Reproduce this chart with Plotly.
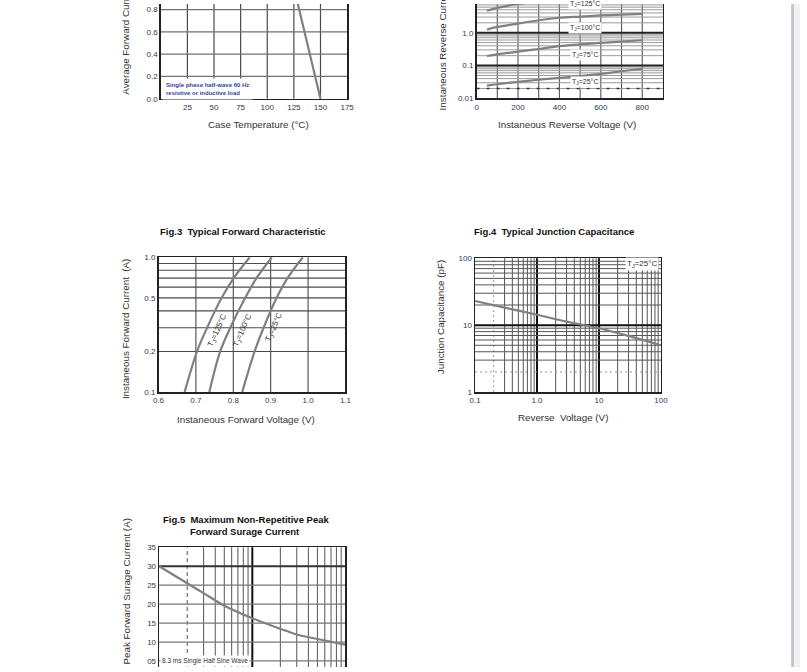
import plotly.graph_objects as go

# ---------------- data ----------------
# Fig.1 derating curve
fig1_temp = [25, 125, 150]
fig1_current = [1.0, 1.0, 0.0]
fig1_xticks = [25, 50, 75, 100, 125, 150, 175]
fig1_yticks = [0.0, 0.2, 0.4, 0.6, 0.8]

# Fig.2 reverse characteristic
fig2_voltage = [50, 100, 200, 300, 400, 500, 600, 700, 800]
ir_25 = [0.0245, 0.027, 0.032, 0.037, 0.042, 0.048, 0.056, 0.067, 0.080]
ir_75 = [0.195, 0.22, 0.265, 0.32, 0.39, 0.44, 0.49, 0.54, 0.59]
ir_100 = [1.24, 1.5, 1.9, 2.4, 2.85, 3.1, 3.35, 3.55, 3.75]
ir_125 = [4.7, 5.7, 7.5, 8.8, 10.0, 11.0, 12.0, 13.0, 14.0]
fig2_xticks = [0, 200, 400, 600, 800]
fig2_yticks = [0.01, 0.1, 1.0]
fig2_yticktext = ["0.01", "0.1", "1.0"]

# Fig.3 forward characteristic (voltage at given currents)
fig3_current = [0.1, 0.2, 0.3, 0.5, 0.7, 1.0]
vf_125 = [0.670, 0.703, 0.730, 0.769, 0.801, 0.844]
vf_100 = [0.736, 0.765, 0.792, 0.832, 0.862, 0.903]
vf_25 = [0.824, 0.857, 0.881, 0.916, 0.945, 0.986]
fig3_xticks = [0.6, 0.7, 0.8, 0.9, 1.0, 1.1]
fig3_yticks = [0.1, 0.2, 0.5, 1.0]

# Fig.4 junction capacitance
fig4_voltage = [0.1, 0.3, 1, 3, 10, 30, 100]
fig4_cap = [23, 18.3, 14.3, 11.3, 9.0, 6.9, 5.0]
fig4_xticks = [0.1, 1, 10, 100]
fig4_xticktext = ["0.1", "1.0", "10", "100"]
fig4_yticks = [1, 10, 100]

# Fig.5 surge current
fig5_cycles = [1, 2, 3, 5, 10, 20, 30, 50, 100]
fig5_surge = [30, 25.5, 22.9, 19.6, 16.3, 13.5, 12.0, 10.8, 9.3]
fig5_yticks = [5, 10, 15, 20, 25, 30, 35]
fig5_yticktext = ["05", "10", "15", "20", "25", "30", "35"]

# ---------------- layout helpers ----------------
W, H = 807, 672


def fx(p):
    return p / W


def fy(p):
    return 1 - p / H


CURVE = dict(color="#808080", width=2.2)
TICKFONT = dict(family="Liberation Sans, Arial, sans-serif", size=8, color="#2e3a55")
TITLEFONT = dict(family="Liberation Sans, Arial, sans-serif", size=9.8, color="#333333")
BOLDFONT = dict(family="Liberation Sans, Arial, sans-serif", size=9.5, color="#111111")
AXLINE = dict(showline=True, linecolor="#222222", linewidth=1.5, zeroline=False,
              ticks="", tickfont=TICKFONT, fixedrange=True)

fig = go.Figure()

# traces
fig.add_trace(go.Scatter(x=fig1_temp, y=fig1_current, mode="lines", line=CURVE,
                         xaxis="x", yaxis="y", showlegend=False))
for ser in (ir_25, ir_75, ir_100, ir_125):
    fig.add_trace(go.Scatter(x=fig2_voltage, y=ser, mode="lines", line=dict(CURVE, shape="spline"),
                             xaxis="x2", yaxis="y2", showlegend=False))
for ser in (vf_125, vf_100, vf_25):
    fig.add_trace(go.Scatter(x=ser, y=fig3_current, mode="lines", line=dict(CURVE, shape="spline"),
                             xaxis="x3", yaxis="y3", showlegend=False))
fig.add_trace(go.Scatter(x=fig4_voltage, y=fig4_cap, mode="lines", line=dict(CURVE, shape="spline"),
                         xaxis="x4", yaxis="y4", showlegend=False))
fig.add_trace(go.Scatter(x=fig5_cycles, y=fig5_surge, mode="lines", line=dict(CURVE, shape="spline"),
                         xaxis="x5", yaxis="y5", showlegend=False))

shapes = []


def vline(xa, ya, vals, color, width, dash="solid"):
    for v in vals:
        shapes.append(dict(type="line", xref=xa, yref=ya + " domain", x0=v, x1=v, y0=0, y1=1,
                           line=dict(color=color, width=width, dash=dash), layer="below"))


def hline(xa, ya, vals, color, width, dash="solid"):
    for v in vals:
        shapes.append(dict(type="line", xref=xa + " domain", yref=ya, x0=0, x1=1, y0=v, y1=v,
                           line=dict(color=color, width=width, dash=dash), layer="below"))


minor = [3, 4, 5, 6, 7, 8, 9]

# Fig.1 grid
vline("x", "y", [25, 50, 75, 100, 125, 150], "#4a4a4a", 1.2)
hline("x", "y", [0.2, 0.4, 0.6, 0.8], "#707070", 1.2)

# Fig.2 grid
vline("x2", "y2", [100, 200, 300, 400, 500, 600, 700, 800], "#555555", 1.1)
hline("x2", "y2", [m * d for d in (0.01, 0.1, 1) for m in minor] + [0.02, 0.2, 2], "#9a9a9a", 1)
hline("x2", "y2", [0.02], "#333333", 1.5, "3px,7px")
hline("x2", "y2", [0.1, 1, 10], "#222222", 2)

# Fig.3 grid
vline("x3", "y3", [0.7, 0.8, 0.9, 1.0], "#4a4a4a", 1.1)
hline("x3", "y3", [0.2, 0.3, 0.4, 0.5, 0.6, 0.7, 0.8, 0.9], "#4a4a4a", 1.1)

# Fig.4 grid
vline("x4", "y4", [m * d for d in (0.1, 1, 10) for m in minor] + [2, 20], "#555555", 1)
vline("x4", "y4", [0.2], "#999999", 1, "2px,3px")
vline("x4", "y4", [1, 10], "#111111", 2)
hline("x4", "y4", [m * d for d in (1, 10) for m in minor] + [20], "#555555", 1)
hline("x4", "y4", [2], "#999999", 1, "2px,3px")
hline("x4", "y4", [10], "#111111", 2)

# Fig.5 grid
vline("x5", "y5", [m * d for d in (1, 10) for m in minor] + [20], "#555555", 1)
vline("x5", "y5", [2], "#555555", 1, "4px,3px")
vline("x5", "y5", [10], "#111111", 2)
hline("x5", "y5", [5, 10, 15, 20, 25], "#777777", 1.2)
hline("x5", "y5", [30], "#333333", 2)

# scrollbar strip on the right
shapes.append(dict(type="rect", xref="paper", yref="paper", x0=fx(798), x1=fx(801), y0=0, y1=1,
                   fillcolor="#c6c6c6", line=dict(width=0)))
shapes.append(dict(type="rect", xref="paper", yref="paper", x0=fx(801), x1=1, y0=0, y1=1,
                   fillcolor="#f0f1f6", line=dict(width=0)))

# ---------------- axes ----------------
fig.update_layout(
    width=W, height=H, margin=dict(l=0, r=0, t=0, b=0),
    paper_bgcolor="white", plot_bgcolor="white", showlegend=False,
    dragmode=False, hovermode=False,
    xaxis=dict(AXLINE, domain=[fx(157.3), fx(346.7)], range=[0, 175], tickvals=fig1_xticks,
               anchor="y", mirror=False, showgrid=False),
    yaxis=dict(AXLINE, domain=[fy(96), fy(0)], range=[0, 0.8503], tickvals=fig1_yticks,
               tickformat=".1f", anchor="x", mirror=True, showgrid=False),
    xaxis2=dict(AXLINE, domain=[fx(478.3), fx(667.7)], range=[0, 900], tickvals=fig2_xticks,
                anchor="y2", mirror=False, showgrid=False),
    yaxis2=dict(AXLINE, type="log", domain=[fy(95.7), fy(0)], range=[-2, 0.874],
                tickvals=fig2_yticks, ticktext=fig2_yticktext, anchor="x2", mirror=True, showgrid=False),
    xaxis3=dict(AXLINE, domain=[fx(155), fx(345)], range=[0.6, 1.1], tickvals=fig3_xticks,
                tickformat=".1f", anchor="y3", mirror=True, showgrid=False),
    yaxis3=dict(AXLINE, type="log", domain=[fy(393.3), fy(256.7)], range=[-1, 0],
                tickvals=fig3_yticks, ticktext=["0.1", "0.2", "0.5", "1.0"], anchor="x3",
                mirror=True, showgrid=False),
    xaxis4=dict(AXLINE, type="log", domain=[fx(476.7), fx(665.7)], range=[-1, 2],
                tickvals=fig4_xticks, ticktext=fig4_xticktext, anchor="y4", mirror=True, showgrid=False),
    yaxis4=dict(AXLINE, type="log", domain=[fy(393.3), fy(257.7)], range=[0, 2],
                tickvals=fig4_yticks, ticktext=["1", "10", "100"], anchor="x4", mirror=True, showgrid=False),
    xaxis5=dict(AXLINE, type="log", domain=[fx(155.7), fx(345)], range=[0, 2], side="top",
                showticklabels=False, anchor="y5", mirror=False, showgrid=False),
    yaxis5=dict(AXLINE, domain=[fy(672), fy(550.7)], range=[3.41, 35], tickvals=fig5_yticks,
                ticktext=fig5_yticktext, anchor="x5", mirror=True, showgrid=False),
    shapes=shapes,
)

ann = []


def text(x, y, t, font, angle=0, **kw):
    d = dict(xref="paper", yref="paper", x=fx(x), y=fy(y), text=t, showarrow=False,
             font=font, textangle=angle, xanchor="center", yanchor="middle")
    d.update(kw)
    ann.append(d)


# axis titles
text(257, 122, "Case Temperature (°C)", TITLEFONT)
text(122, 28, "Average Forward Current (A)", TITLEFONT, -90)
text(570, 122, "Instaneous Reverse Voltage (V)", TITLEFONT)
text(444, 35, "Instaneous Reverse Current (µA)", TITLEFONT, -90)
text(244, 421.5, "Instaneous Forward Voltage (V)", TITLEFONT)
text(121.5, 330, "Instaneous Forward Current  (A)", TITLEFONT, -90)
text(566, 419, "Reverse  Voltage (V)", TITLEFONT)
text(441.5, 317, "Junction Capacitance (pF)", TITLEFONT, -90)
# kept inside the canvas (bottom end at the lower edge)
ann.append(dict(xref="paper", yref="paper", x=fx(121.5), y=0, text="Peak Forward Surage Current (A)",
                showarrow=False, font=TITLEFONT, textangle=-90, xanchor="center", yanchor="bottom"))

# figure titles
text(240.5, 231, "<b>Fig.3  Typical Forward Characteristic</b>", BOLDFONT)
text(557, 231, "<b>Fig.4  Typical Junction Capacitance</b>", BOLDFONT)
text(244, 523, "<b>Fig.5  Maximum Non-Repetitive Peak</b>", BOLDFONT)
text(243, 535, "<b>Forward Surage Current</b>", BOLDFONT)

# Fig.1 note
ann.append(dict(xref="paper", yref="paper", x=fx(159), y=fy(75), xanchor="left", yanchor="top",
                text="<b>Single phase half-wave 60 Hz<br>resistive or inductive load</b>",
                showarrow=False, align="left", bgcolor="white", borderpad=3,
                font=dict(family="Liberation Sans, Arial, sans-serif", size=6, color="#34449a")))

# Fig.2 temperature labels
LBL = dict(family="Liberation Sans, Arial, sans-serif", size=7, color="#333333")
for (yy, t) in [(0, "125"), (24, "100"), (52, "75"), (79, "25")]:
    text(588, yy, "T<sub>J</sub>=" + t + "°C", LBL, bgcolor="white", borderpad=1)

# Fig.3 rotated labels
LBL3 = dict(family="Liberation Sans, Arial, sans-serif", size=8, color="#333333")
text(214.5, 331, "T<sub>J</sub>=125°C", LBL3, -66)
text(240, 331, "T<sub>J</sub>=100°C", LBL3, -66)
text(272, 328, "T<sub>J</sub>=25°C", LBL3, -66)

# Fig.4 label
text(646, 263.5, "T<sub>J</sub>=25°C", dict(LBL3, size=8), bgcolor="white", borderpad=1)

# Fig.5 note (box ends at the lower edge)
ann.append(dict(xref="paper", yref="paper", x=fx(157), y=0, xanchor="left", yanchor="bottom",
                text="8.3 ms Single Half Sine Wave", showarrow=False, bgcolor="white", borderpad=1,
                font=dict(family="Liberation Sans, Arial, sans-serif", size=6.5, color="#333333")))

fig.update_layout(annotations=ann)
POST = "document.body.style.margin='0';document.body.style.overflow='hidden';"
fig.write_html("out.html", config={"staticPlot": True, "displayModeBar": False}, post_script=POST)
